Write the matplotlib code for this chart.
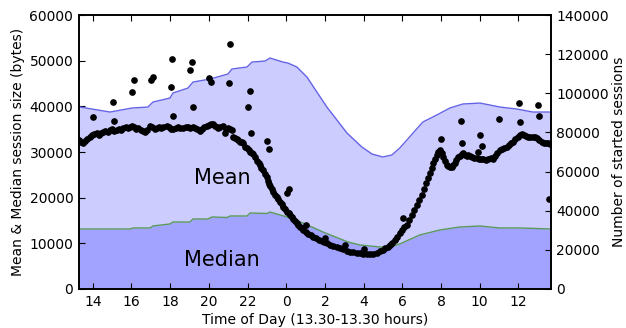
import matplotlib
matplotlib.use("Agg")
import matplotlib.pyplot as plt
import numpy as np

# ---- data (hours since midnight of day 1; values > 24 are next day) ----
mean_hours = [13.28, 14.89, 16.03, 16.85, 17.11, 17.99, 18.14, 18.92, 19.18, 20.06, 20.99,
              21.19, 21.97, 22.23, 22.90, 23.16, 23.83, 24.09, 24.55, 25.07, 26.10, 27.14,
              27.91, 28.43, 28.99, 29.46, 29.87, 31.06, 31.78, 32.46, 33.13, 34.01, 35.04,
              35.92, 36.75, 37.68]
mean_bytes = [39900, 38760, 39640, 39860, 40950, 41830, 42920, 44020, 45330, 45990, 47090,
              48180, 48620, 49710, 49930, 50590, 49710, 49490, 48620, 46430, 39860, 34160,
              31100, 29570, 28910, 29350, 30880, 36570, 38110, 39640, 40520, 40730, 39860,
              39420, 38760, 38760]

median_hours = [13.28, 15.92, 16.08, 16.96, 17.11, 17.99, 18.14, 19.02, 19.18, 19.95, 20.16,
                20.94, 21.09, 21.97, 22.13, 23.01, 23.16, 24.04, 24.86, 25.90, 27.19, 27.81,
                28.84, 29.36, 29.87, 30.90, 31.94, 32.97, 34.01, 35.04, 36.08, 37.68]
median_bytes = [13140, 13140, 13360, 13360, 13800, 14240, 14670, 14670, 15330, 15330, 15770,
                 15660, 15990, 15990, 16640, 16540, 16860, 15770, 14450, 12480, 10290, 9640,
                 9200, 9200, 9860, 11830, 12920, 13580, 13800, 13360, 13360, 13140]

sess_hours = [13.30, 13.40, 13.51, 13.62, 13.72, 13.86, 13.97, 14.08, 14.20, 14.31, 14.42, 14.54,
              14.65, 14.77, 14.89, 15.00, 15.12, 15.24, 15.35, 15.47, 15.58, 15.70, 15.81, 15.92,
              16.01, 16.12, 16.24, 16.35, 16.47, 16.58, 16.70, 16.81, 16.96, 17.07, 17.19, 17.30,
              17.42, 17.53, 17.65, 17.82, 17.93, 18.05, 18.16, 18.28, 18.40, 18.51, 18.68, 18.80,
              18.94, 19.05, 19.17, 19.28, 19.40, 19.54, 19.65, 19.77, 19.89, 20.00, 20.10, 20.20,
              20.32, 20.43, 20.49, 20.60, 20.71, 20.83, 20.90, 21.00, 21.10, 21.18, 21.26, 21.35,
              21.45, 21.52, 21.62, 21.70, 21.78, 21.87, 21.96, 22.05, 22.15, 22.22, 22.29, 22.40,
              22.50, 22.57, 22.64, 22.72, 22.80, 22.90, 22.98, 23.05, 23.10, 23.16, 23.24, 23.33,
              23.42, 23.50, 23.58, 23.67, 23.76, 23.85, 23.95, 24.05, 24.12, 24.19, 24.28, 24.37,
              24.46, 24.54, 24.62, 24.71, 24.80, 24.88, 25.00, 25.13, 25.27, 25.40, 25.55, 25.70,
              25.85, 25.97, 26.09, 26.25, 26.42, 26.60, 26.78, 26.95, 27.12, 27.30, 27.47, 27.64,
              27.81, 27.98, 28.15, 28.33, 28.50, 28.67, 28.84, 29.01, 29.13, 29.25, 29.36, 29.48,
              29.62, 29.75, 29.87, 29.97, 30.10, 30.22, 30.35, 30.48, 30.61, 30.74, 30.87, 31.00,
              31.12, 31.25, 31.34, 31.43, 31.51, 31.60, 31.69, 31.77, 31.86, 31.94, 32.03, 32.11,
              32.20, 32.30, 32.38, 32.46, 32.55, 32.63, 32.72, 32.80, 32.89, 32.98, 33.06, 33.15,
              33.24, 33.33, 33.41, 33.50, 33.60, 33.70, 33.84, 33.96, 34.07, 34.18, 34.32, 34.45,
              34.58, 34.70, 34.80, 34.90, 35.04, 35.15, 35.27, 35.39, 35.50, 35.62, 35.73, 35.85,
              35.96, 36.06, 36.17, 36.28, 36.40, 36.51, 36.62, 36.73, 36.85, 36.97, 37.08, 37.20,
              37.31, 37.43, 37.54, 37.65]
sess_count = [76.1, 75.0, 74.8, 75.5, 76.5, 77.8, 78.5, 79.2, 79.6, 78.8, 79.9, 80.4,
              80.9, 80.1, 81.3, 81.9, 80.8, 81.3, 82.0, 81.4, 82.4, 83.0, 82.2, 82.8,
              83.3, 82.6, 81.6, 82.1, 81.3, 80.6, 80.4, 81.5, 83.3, 82.8, 82.0, 82.4,
              83.0, 82.5, 82.9, 83.3, 82.6, 82.0, 81.8, 82.4, 82.8, 82.2, 82.4, 83.0,
              82.9, 82.2, 82.8, 82.4, 81.6, 80.9, 82.0, 82.8, 83.3, 84.0, 84.5, 84.3,
              83.2, 82.6, 82.1, 83.0, 83.3, 79.9, 81.8, 82.4, 82.0, 81.3, 77.8, 77.2,
              76.7, 76.1, 75.3, 75.0, 74.5, 72.7, 71.9, 71.0, 70.1, 69.5, 69.0, 67.4,
              65.5, 64.4, 63.4, 62.0, 60.6, 58.8, 57.0, 55.0, 53.8, 52.6, 51.0, 49.5,
              48.0, 47.0, 45.8, 44.6, 43.3, 42.1, 40.8, 39.4, 38.6, 37.8, 36.6, 35.6,
              34.6, 33.7, 32.9, 31.9, 31.0, 30.2, 29.3, 28.3, 27.5, 26.7, 25.8, 25.0,
              24.3, 23.8, 23.4, 22.6, 21.9, 21.3, 20.8, 20.3, 19.6, 19.1, 18.8, 18.4,
              18.2, 18.0, 17.9, 17.7, 18.1, 18.6, 19.2, 19.9, 20.8, 21.6, 22.5, 23.7,
              25.0, 26.7, 28.5, 30.3, 31.5, 32.7, 35.3, 37.8, 40.4, 42.9, 45.5, 48.0,
              51.0, 54.0, 56.6, 59.1, 61.7, 64.2, 66.4, 68.5, 70.0, 71.0, 69.3, 67.6,
              65.5, 63.6, 62.7, 62.2, 62.6, 63.4, 64.2, 65.8, 67.3, 68.2, 68.8, 69.3,
              68.6, 68.0, 68.6, 68.0, 67.4, 67.0, 66.8, 66.5, 66.2, 66.4, 66.0, 66.3,
              66.8, 66.4, 68.2, 69.6, 71.0, 71.6, 72.2, 72.7, 73.5, 74.4, 75.3, 76.6,
              77.9, 78.7, 79.2, 78.8, 78.0, 77.5, 77.8, 77.6, 77.5, 77.0, 76.4, 75.3,
              74.8, 74.6, 74.5, 74.2]

outlier_hours = [14.03, 15.03, 15.11, 16.01, 16.11, 17.01, 17.11, 18.11, 18.04, 18.14, 19.11,
                 19.02, 20.02, 20.11, 21.11, 21.04, 22.11, 19.19, 22.02, 22.18, 23.02, 23.11,
                 24.02, 24.16, 25.02, 26.00, 27.03, 28.02, 30.02, 32.01, 33.01, 33.10, 34.01,
                 34.10, 33.92, 35.01, 36.03, 36.09, 37.02, 37.09, 37.58]
outlier_count = [87.7, 95.6, 85.9, 100.5, 106.7, 106.8, 108.5, 117.4, 103.4, 88.4, 116.0,
                 111.9, 107.7, 105.9, 125.0, 105.4, 101.0, 93.2, 93.2, 79.9, 75.6, 71.5,
                 49.2, 51.0, 32.7, 26.2, 22.5, 20.6, 36.1, 76.8, 85.9, 74.8, 78.7,
                 73.3, 70.2, 87.1, 94.9, 85.5, 94.0, 88.3, 45.8]

xtick_hours = [14, 16, 18, 20, 22, 24, 26, 28, 30, 32, 34, 36]

# ---- figure ----
plt.rcParams['font.family'] = ['DejaVu Sans']
fig = plt.figure(figsize=(6.26, 3.28), dpi=100)
ax = fig.add_axes([0.126, 0.119, 0.754, 0.835])

ax.fill_between(mean_hours, 0, mean_bytes, color='#ccccff', lw=0)
ax.plot(mean_hours, mean_bytes, color='#6464e6', lw=1)
ax.fill_between(median_hours, 0, median_bytes, color='#a2a2ff', lw=0)
ax.plot(median_hours, median_bytes, color='#5a9a5a', lw=1)

ax.text(20.68, 24300, 'Mean', fontsize=15, ha='center', va='center')
ax.text(20.68, 6350, 'Median', fontsize=15, ha='center', va='center')

ax.set_xlim(13.28, 37.68)
ax.set_ylim(0, 60000)
ax.set_xticks(xtick_hours)
ax.set_xticklabels([str(h % 24) for h in xtick_hours])
ax.set_yticks(np.arange(0, 60001, 10000))
ax.set_xlabel('Time of Day (13.30-13.30 hours)', fontsize=10, labelpad=3.5)
ax.set_ylabel('Mean & Median session size (bytes)', fontsize=10, labelpad=3)

ax2 = ax.twinx()
ax2.plot(sess_hours, np.array(sess_count) * 1000, 'o', color='black', ms=3.8, mec='black')
ax2.plot(outlier_hours, np.array(outlier_count) * 1000, 'o', color='black', ms=3.8, mec='black')
ax2.set_ylim(0, 140000)
ax2.set_xlim(13.28, 37.68)
ax2.set_yticks(np.arange(0, 140001, 20000))
ax2.set_ylabel('Number of started sessions', fontsize=10, labelpad=2)

for a in (ax, ax2):
    for s in a.spines.values():
        s.set_linewidth(1.2)
    a.tick_params(direction='in', length=4, width=0.8, labelsize=10, pad=4)
ax.tick_params(axis='x', top=True)
ax.tick_params(axis='y', right=False)

fig.savefig('out.png', dpi=100)
